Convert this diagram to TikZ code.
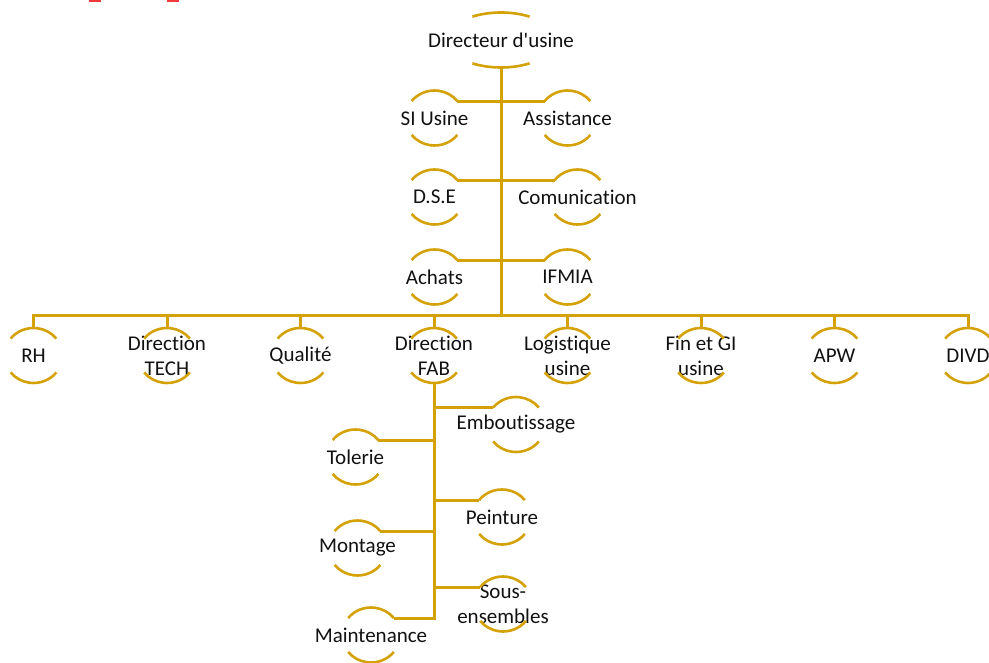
\documentclass[tikz,border=0pt]{standalone}
\usepackage{fontspec}
\setmainfont[Ligatures=NoCommon]{Carlito}
\usepackage{xcolor}
\usepackage{tikz}
\usetikzlibrary{calc}
\definecolor{gold}{HTML}{D4A106}
\definecolor{ink}{HTML}{111111}
\definecolor{redbit}{HTML}{F23A3A}
\tikzset{
  link/.style={draw=gold, line width=3pt},
  brk/.style={draw=gold, line width=2.6pt},
  lab/.style={text=ink, align=center, inner sep=0pt, font=\fontsize{21}{25}\selectfont},
  cut/.style={draw=redbit, line width=2.5pt}
}
% bracket arcs above and below a label node
\newcommand{\BracketAt}[3]{%
  \coordinate (#1-t) at ($(#1)+(0,-27.5)$);
  \coordinate (#1-b) at ($(#1)+(0,27.5)$);
  \coordinate (#1-tl) at ($(#1)+({270-#3}:#2 and 27.5)$);
  \coordinate (#1-tr) at ($(#1)+({270+#3}:#2 and 27.5)$);
  \draw[brk] (#1-tl) arc[start angle={270-#3}, end angle={270+#3}, x radius=#2, y radius=27.5];
  \draw[brk] ($(#1)+({90-#3}:#2 and 27.5)$) arc[start angle={90-#3}, end angle={90+#3}, x radius=#2, y radius=27.5];
}

\begin{document}
\begin{tikzpicture}[x=1pt,y=-1pt]
  \useasboundingbox (0,0) rectangle (989,663);

  \draw[cut] (89,1) -- (101,1);
  \draw[cut] (167,1) -- (179,1);

  \node[lab] (dir) at (501,40) {Directeur d\textquotesingle usine};
  \BracketAt{dir}{54}{32}

  \node[lab] (si) at (434.5,118) {SI Usine};
  \node[lab] (ass) at (567.5,118) {Assistance};
  \node[lab] (dse) at (434.5,197) {D.S.E};
  \node[lab] (com) at (577.5,197) {Comunication};
  \node[lab] (ach) at (434.5,277) {Achats};
  \node[lab] (ifm) at (567.5,277) {IFMIA};
  \foreach \n in {si,ass,dse,com,ach,ifm} {\BracketAt{\n}{29}{52}}

  \node[lab] (rh) at (33.5,355.5) {RH};
  \node[lab] (tech) at (167,355.5) {Direction\\TECH};
  \node[lab] (qua) at (300.5,355.5) {Qualité};
  \node[lab] (fab) at (434,355.5) {Direction\\FAB};
  \node[lab] (log) at (567.5,355.5) {Logistique\\usine};
  \node[lab] (fin) at (701,355.5) {Fin et GI\\usine};
  \node[lab] (apw) at (834.5,355.5) {APW};
  \node[lab] (divd) at (968,355.5) {DIVD};
  \foreach \n in {rh,tech,qua,fab,log,fin,apw,divd} {\BracketAt{\n}{29}{52}}

  \node[lab] (emb) at (516,424.5) {Emboutissage};
  \node[lab] (tol) at (355.5,457) {Tolerie};
  \node[lab] (pei) at (502,517) {Peinture};
  \node[lab] (mon) at (357.5,548) {Montage};
  \node[lab] (sou) at (503,604) {Sous-\\ensembles};
  \node[lab] (mai) at (371,635) {Maintenance};
  \foreach \n in {emb,tol,pei,mon,sou,mai} {\BracketAt{\n}{29}{52}}

  \coordinate (bus) at (501,316);
  \draw[link] (dir-b) -- (bus);
  \draw[link] (si-tr) -- (si-tr -| bus);
  \draw[link] (ass-tl) -- (ass-tl -| bus);
  \draw[link] (dse-tr) -- (dse-tr -| bus);
  \draw[link] (com-tl) -- (com-tl -| bus);
  \draw[link] (ach-tr) -- (ach-tr -| bus);
  \draw[link] (ifm-tl) -- (ifm-tl -| bus);

  \draw[link] (rh-t) |- (bus) -| (divd-t);
  \foreach \n in {tech,qua,fab,log,fin,apw} {\draw[link] (\n-t) -- (\n-t |- bus);}

  \draw[link] (fab-b) |- (mai-tr);
  \draw[link] (emb-tl) -- (emb-tl -| fab-b);
  \draw[link] (tol-tr) -- (tol-tr -| fab-b);
  \draw[link] (pei-tl) -- (pei-tl -| fab-b);
  \draw[link] (mon-tr) -- (mon-tr -| fab-b);
  \draw[link] (sou-tl) -- (sou-tl -| fab-b);
\end{tikzpicture}
\end{document}
